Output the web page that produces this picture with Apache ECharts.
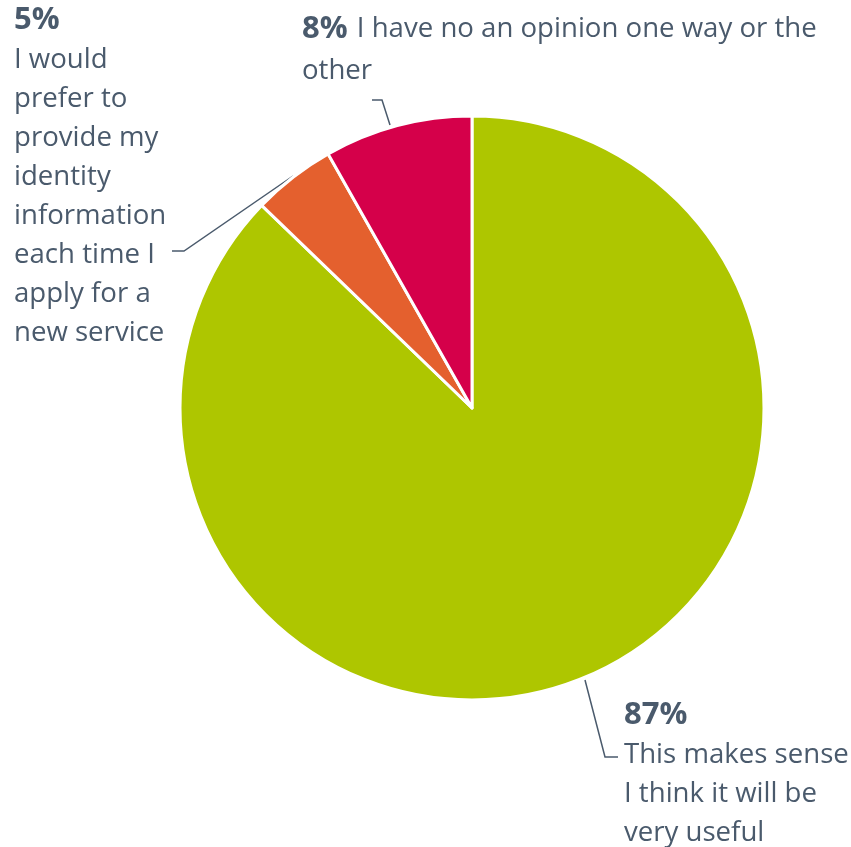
<!DOCTYPE html>
<html>
<head>
<meta charset="utf-8">
<script src="https://cdn.jsdelivr.net/npm/echarts@6/dist/echarts.min.js"></script>
<style>html,body{margin:0;padding:0;background:#fff}#c{width:851px;height:847px}</style>
</head>
<body>
<div id="c"></div>
<script>
const categories = [
  "This makes sense I think it will be very useful",
  "I would prefer to provide my identity information each time I apply for a new service",
  "I have no an opinion one way or the other"
];
const values = [87.2, 4.6, 8.2];
const pctLabels = ["87%", "5%", "8%"];
const labelLines = [
  ["This makes sense", "I think it will be", "very useful"],
  ["I would", "prefer to", "provide my", "identity", "information", "each time I", "apply for a", "new service"],
  ["I have no an opinion one way or the", "other"]
];
const colors = ["#AEC600", "#E4602E", "#D5004A"];

const TXT = "#4A5A6C";
const labelPos = [
  {x: 624, y: 694, pts: [[585, 680], [605, 757], [618, 757]]},
  {x: 14, y: 0, pts: [[293, 176], [184, 251], [172, 251]]},
  {x: 302, y: 8, pts: [[390, 125], [382, 100], [372, 100]]}
];
const pLH = [42, 41, 42];
const tLH = [39, 39, 42];

function fmt(i) {
  if (i === 2) {
    return "{p|" + pctLabels[i] + "}{t| " + labelLines[i][0] + "}\n{t|" + labelLines[i][1] + "}";
  }
  return "{p|" + pctLabels[i] + "}\n" + labelLines[i].map(s => "{t|" + s + "}").join("\n");
}

const data = categories.map((c, i) => ({
  name: c,
  value: values[i],
  itemStyle: {color: colors[i]},
  label: {
    formatter: fmt(i),
    rich: {
      p: {fontFamily: "Open Sans", fontWeight: "bold", fontSize: 31, color: TXT, lineHeight: pLH[i], padding: i === 2 ? [0, 2, 0, 0] : 0},
      t: {fontFamily: "Open Sans", fontSize: 27.6, color: TXT, lineHeight: tLH[i]}
    }
  }
}));

const chart = echarts.init(document.getElementById('c'), null, {renderer: 'canvas'});
chart.setOption({
  backgroundColor: '#ffffff',
  animation: false,
  series: [{
    type: 'pie',
    center: [472, 408],
    radius: [0, 292],
    startAngle: 90,
    clockwise: true,
    avoidLabelOverlap: false,
    itemStyle: {borderColor: '#ffffff', borderWidth: 3},
    label: {show: true, position: 'outside', align: 'left'},
    labelLine: {show: true, lineStyle: {color: TXT, width: 1.5}, length: 10, length2: 10},
    labelLayout: function (params) {
      const p = labelPos[params.dataIndex];
      return {x: p.x, y: p.y, align: 'left', verticalAlign: 'top', labelLinePoints: p.pts};
    },
    emphasis: {disabled: true},
    data: data
  }]
});
</script>
</body>
</html>
